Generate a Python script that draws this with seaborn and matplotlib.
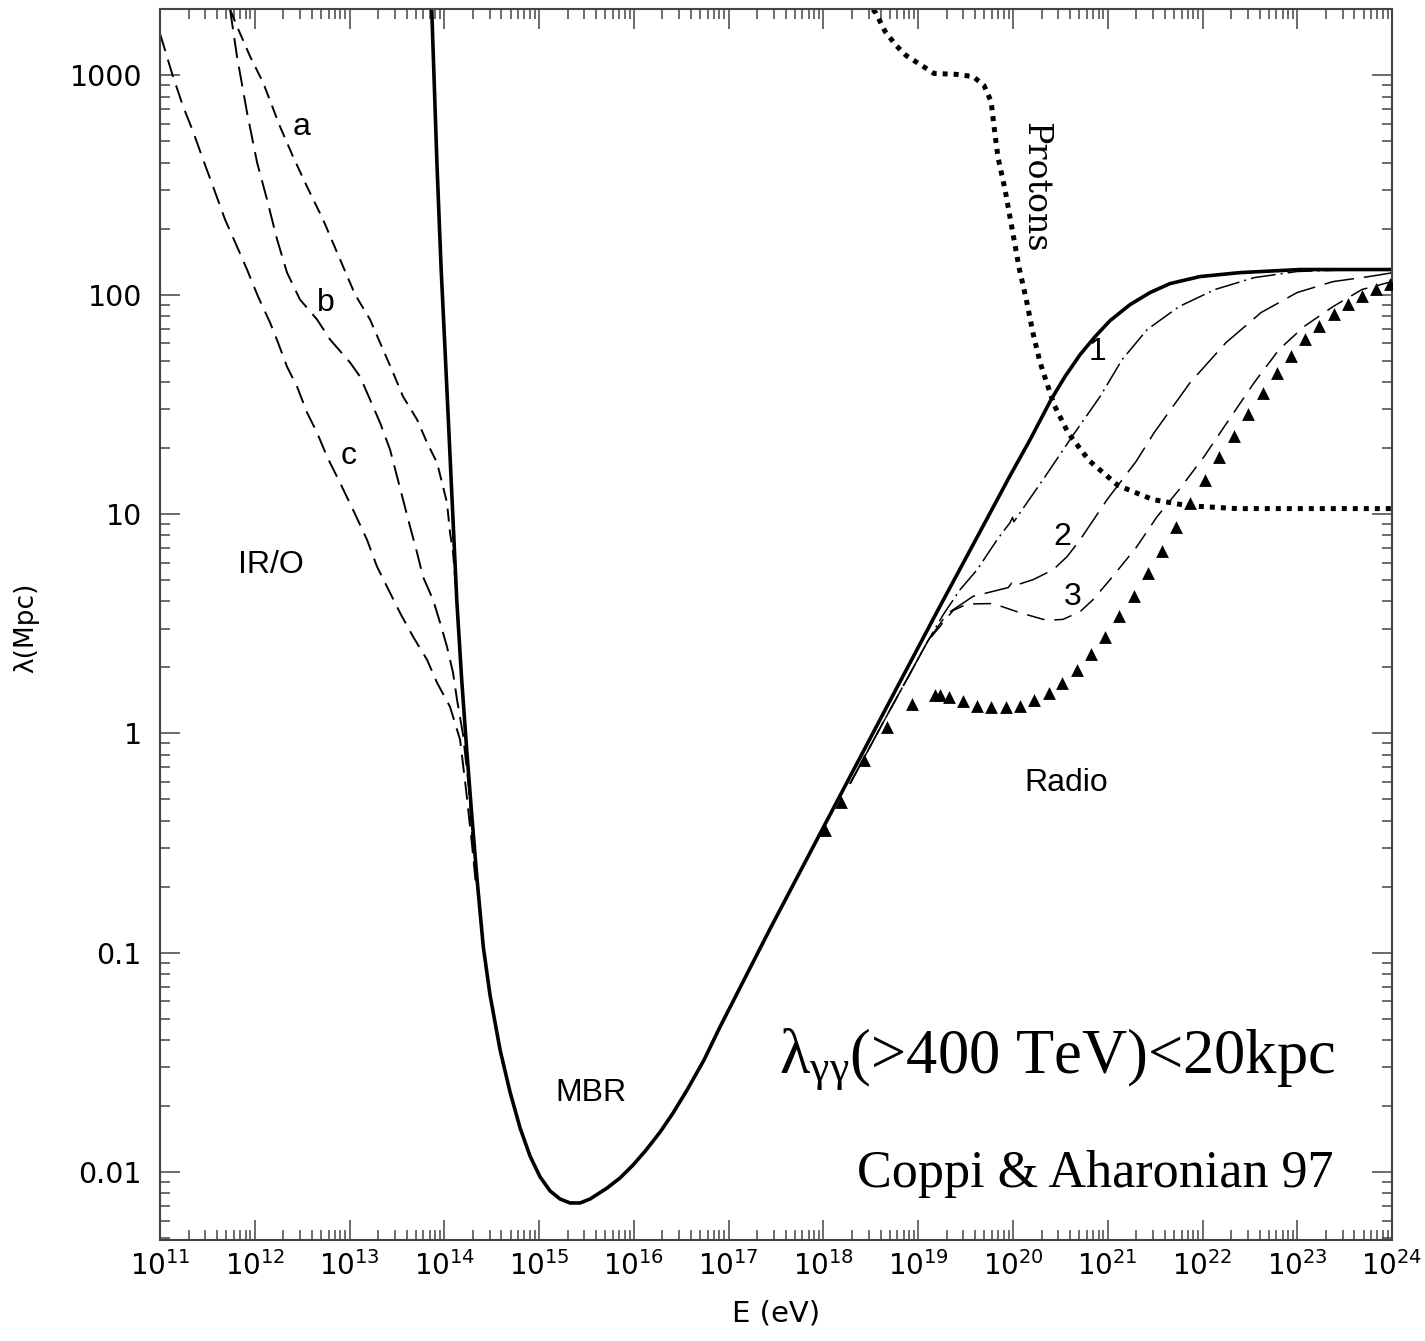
import numpy as np
import pandas as pd
import matplotlib
matplotlib.use("Agg")
import matplotlib.pyplot as plt
from matplotlib.ticker import FixedLocator, FixedFormatter, LogLocator, NullFormatter
import seaborn as sns

# all values are log10(E / eV) and log10(lambda / Mpc)
mbr_logE = [13.867, 13.923, 13.965, 14.007, 14.042, 14.131, 14.183, 14.236, 14.289, 14.342,
            14.411, 14.482, 14.588, 14.693, 14.799, 14.904, 15.010, 15.115, 15.221, 15.326,
            15.432, 15.537, 15.717, 15.854, 15.991, 16.128, 16.276, 16.413, 16.561, 16.740,
            16.909, 17.437, 17.996, 18.629, 19.199, 19.726, 19.969, 20.180, 20.402, 20.549,
            20.708, 20.866, 21.024, 21.235, 21.446, 21.657, 21.974, 22.396, 23.029, 24.000]
mbr_logL = [3.301, 2.585, 2.129, 1.750, 1.431, 0.609, 0.245, -0.075, -0.371, -0.650,
            -0.974, -1.193, -1.443, -1.635, -1.799, -1.927, -2.022, -2.086, -2.123, -2.141,
            -2.141, -2.123, -2.073, -2.027, -1.968, -1.900, -1.818, -1.731, -1.626, -1.489,
            -1.338, -0.891, -0.431, 0.089, 0.555, 0.979, 1.175, 1.339, 1.522, 1.627,
            1.727, 1.809, 1.882, 1.955, 2.010, 2.051, 2.083, 2.101, 2.115, 2.115]

radio1_logE = [18.28, 18.63, 18.91, 19.10, 19.262, 19.441, 19.621, 19.832, 19.969, 19.995,
               20.010, 20.148, 20.317, 20.623, 20.919, 21.151, 21.415, 21.752, 22.132, 22.544,
               22.997, 23.500, 24.000]
radio1_logL = [-0.23, 0.05, 0.27, 0.42, 0.54, 0.655, 0.746, 0.883, 0.961, 0.985,
               0.965, 1.052, 1.157, 1.353, 1.536, 1.704, 1.841, 1.946, 2.024, 2.078,
               2.106, 2.113, 2.115]

radio2_logE = [18.28, 18.63, 18.91, 19.10, 19.304, 19.579, 19.950, 19.985, 20.005, 20.212,
               20.423, 20.571, 20.708, 20.993, 21.299, 21.489, 21.868, 22.248, 22.618, 22.998,
               23.377, 23.757, 24.000]
radio2_logL = [-0.23, 0.05, 0.27, 0.42, 0.545, 0.625, 0.665, 0.685, 0.672, 0.701,
               0.746, 0.806, 0.883, 1.066, 1.240, 1.371, 1.599, 1.782, 1.919, 2.010,
               2.060, 2.083, 2.100]

radio3_logE = [18.28, 18.63, 18.91, 19.10, 19.367, 19.515, 19.790, 20.075, 20.359, 20.528,
               20.708, 20.845, 21.024, 21.299, 21.520, 21.752, 22.016, 22.280, 22.544, 22.807,
               23.071, 23.377, 23.683, 24.000]
radio3_logL = [-0.23, 0.05, 0.27, 0.42, 0.560, 0.590, 0.592, 0.550, 0.515, 0.520,
               0.555, 0.610, 0.701, 0.847, 0.988, 1.111, 1.262, 1.431, 1.599, 1.750,
               1.855, 1.946, 2.024, 2.060]

radio_tri_logE = [18.017, 18.183, 18.429, 18.671, 18.935, 19.178, 19.230, 19.325, 19.473, 19.621,
                  19.769, 19.927, 20.075, 20.222, 20.381, 20.518, 20.676, 20.824, 20.972, 21.119,
                  21.277, 21.425, 21.573, 21.720, 21.868, 22.027, 22.174, 22.333, 22.480, 22.639,
                  22.786, 22.934, 23.082, 23.230, 23.388, 23.536, 23.683, 23.831, 23.979]
radio_tri_logL = [-0.440, -0.312, -0.120, 0.030, 0.135, 0.176, 0.176, 0.167, 0.149, 0.126,
                  0.121, 0.121, 0.126, 0.153, 0.185, 0.231, 0.290, 0.363, 0.441, 0.536,
                  0.628, 0.733, 0.833, 0.942, 1.052, 1.157, 1.262, 1.358, 1.458, 1.554,
                  1.645, 1.723, 1.796, 1.859, 1.914, 1.960, 1.996, 2.028, 2.047]

proton_logE = [18.523, 18.555, 18.650, 18.766, 18.872, 18.988, 19.167, 19.399, 19.579, 19.695,
               19.769, 19.800, 19.842, 19.916, 19.990, 20.064, 20.138, 20.212, 20.286, 20.359,
               20.433, 20.581, 20.803, 21.109, 21.478, 21.847, 22.364, 23.113, 24.000]
proton_logL = [3.301, 3.283, 3.201, 3.137, 3.091, 3.059, 3.009, 3.005, 2.995, 2.954,
               2.881, 2.767, 2.626, 2.480, 2.302, 2.124, 1.983, 1.823, 1.691, 1.595,
               1.499, 1.371, 1.244, 1.130, 1.066, 1.038, 1.025, 1.025, 1.025]

iro_a_logE = [11.739, 11.812, 11.950, 12.087, 12.266, 12.403, 12.551, 12.720, 12.868, 13.058,
              13.216, 13.353, 13.459, 13.564, 13.712, 13.817, 13.923, 13.986, 14.028, 14.060,
              14.092, 14.123, 14.150]
iro_a_logL = [3.301, 3.224, 3.087, 2.968, 2.767, 2.630, 2.493, 2.343, 2.193, 2.001,
              1.887, 1.750, 1.645, 1.536, 1.431, 1.326, 1.234, 1.125, 1.052, 0.915,
              0.824, 0.655, 0.480]

iro_b_logE = [11.739, 11.812, 11.918, 12.024, 12.129, 12.235, 12.340, 12.477, 12.657, 12.794,
              13.005, 13.110, 13.216, 13.321, 13.427, 13.501, 13.564, 13.638, 13.712, 13.775,
              13.881, 13.955, 14.028, 14.092, 14.134, 14.197, 14.261, 14.303, 14.345]
iro_b_logL = [3.301, 3.087, 2.831, 2.603, 2.434, 2.252, 2.101, 1.978, 1.887, 1.796,
              1.691, 1.627, 1.522, 1.417, 1.294, 1.171, 1.066, 0.943, 0.824, 0.714,
              0.609, 0.505, 0.395, 0.276, 0.153, -0.006, -0.257, -0.531, -0.713]

iro_c_logE = [11.000, 11.028, 11.123, 11.243, 11.348, 11.454, 11.559, 11.686, 11.812, 11.918,
              12.034, 12.161, 12.245, 12.340, 12.446, 12.551, 12.657, 12.762, 12.899, 13.036,
              13.184, 13.290, 13.427, 13.532, 13.670, 13.817, 13.923, 14.060, 14.166, 14.229,
              14.292, 14.334]
iro_c_logL = [3.190, 3.151, 3.014, 2.859, 2.745, 2.617, 2.494, 2.343, 2.220, 2.115,
              1.992, 1.873, 1.782, 1.672, 1.581, 1.463, 1.371, 1.262, 1.143, 1.020,
              0.883, 0.760, 0.641, 0.550, 0.441, 0.336, 0.231, 0.121, -0.029, -0.257,
              -0.508, -0.691]

x_tick_exps = list(range(11, 25))
y_tick_values = [0.01, 0.1, 1, 10, 100, 1000]
y_tick_labels = ["0.01", "0.1", "1", "10", "100", "1000"]

sns.set_style("ticks", {"text.color": "black", "axes.labelcolor": "black"})
plt.rcParams["font.family"] = ["DejaVu Sans"]

fig = plt.figure(figsize=(14.25, 13.41), dpi=100)
ax = fig.add_axes([0.1123, 0.0753, 0.8646, 0.9180])
ax.set_xscale("log")
ax.set_yscale("log")


def curve(logE, logL, **kw):
    df = pd.DataFrame({"E": 10.0 ** np.array(logE), "lam": 10.0 ** np.array(logL)})
    sns.lineplot(data=df, x="E", y="lam", ax=ax, color="black", sort=False,
                 estimator=None, **kw)


# IR/O curves
curve(iro_a_logE, iro_a_logL, linewidth=1.4, linestyle=(0, (6.7, 4.1)))
curve(iro_b_logE, iro_b_logL, linewidth=1.4, linestyle=(0, (10.3, 4.6)))
curve(iro_c_logE, iro_c_logL, linewidth=1.4, linestyle=(0, (9.3, 4.6)))

# radio curves
curve(radio1_logE, radio1_logL, linewidth=1.1, linestyle=(0, (16.4, 3.3, 1.3, 3.3)))
curve(radio2_logE, radio2_logL, linewidth=1.1, linestyle=(0, (19.6, 6.5)))
curve(radio3_logE, radio3_logL, linewidth=1.1, linestyle=(0, (11.8, 6.5)))

# MBR only
curve(mbr_logE, mbr_logL, linewidth=2.6, solid_capstyle="round", solid_joinstyle="round")

# protons
curve(proton_logE, proton_logL, linewidth=3.6, linestyle=(0, (1.0, 1.2)),
      dash_capstyle="butt")

tri = pd.DataFrame({"E": 10.0 ** np.array(radio_tri_logE),
                    "lam": 10.0 ** np.array(radio_tri_logL)})
sns.scatterplot(data=tri, x="E", y="lam", ax=ax, marker="^", color="black",
                s=85, linewidth=0, zorder=3)

ax.set_xlim(1e11, 1e24)
ax.set_ylim(10 ** -2.31, 10 ** 3.303)

ax.xaxis.set_major_locator(FixedLocator([10.0 ** e for e in x_tick_exps]))
ax.xaxis.set_major_formatter(FixedFormatter([r"$\mathregular{10^{%d}}$" % e for e in x_tick_exps]))
ax.xaxis.set_minor_locator(LogLocator(base=10, subs=np.arange(2, 10), numticks=200))
ax.xaxis.set_minor_formatter(NullFormatter())
ax.yaxis.set_major_locator(FixedLocator(y_tick_values))
ax.yaxis.set_major_formatter(FixedFormatter(y_tick_labels))
ax.yaxis.set_minor_locator(LogLocator(base=10, subs=np.arange(2, 10), numticks=200))
ax.yaxis.set_minor_formatter(NullFormatter())

ax.tick_params(which="both", direction="in", top=True, right=True, color="#444444",
               labelcolor="black")
ax.tick_params(which="major", length=14.5, width=1.1)
ax.tick_params(which="minor", length=7.2, width=1.1)
ax.tick_params(axis="y", labelsize=20.5, pad=13)
ax.tick_params(axis="x", labelsize=20, pad=8)
for sp in ax.spines.values():
    sp.set_color("#444444")
    sp.set_linewidth(1.5)

ax.set_xlabel("E (eV)", fontsize=21)
ax.xaxis.set_label_coords(0.5, -0.048)
ax.set_ylabel("λ(Mpc)", fontsize=19)
ax.yaxis.set_label_coords(-0.098, 0.497)

sans = "Liberation Sans"
lab = dict(fontsize=23, family=sans, ha="center", va="center", color="black")
ax.text(10 ** 12.498, 10 ** 2.763, "a", **lab)
ax.text(10 ** 12.752, 10 ** 1.964, "b", **lab)
ax.text(10 ** 12.994, 10 ** 1.266, "c", **lab)
ax.text(10 ** 12.171, 10 ** 0.769, "IR/O", **lab)
ax.text(10 ** 15.548, 10 ** -1.640, "MBR", **lab)
ax.text(10 ** 20.560, 10 ** -0.225, "Radio", **lab)
ax.text(10 ** 20.887, 10 ** 1.741, "1", **lab)
ax.text(10 ** 20.518, 10 ** 0.897, "2", **lab)
ax.text(10 ** 20.634, 10 ** 0.623, "3", **lab)
ax.text(10 ** 20.233, 10 ** 2.489, "Protons", fontsize=24, family="DejaVu Serif",
        rotation=270, ha="center", va="center", color="black")

serif = "Liberation Serif"
ax.text(10 ** 23.398, 10 ** -1.544, r"$\mathregular{λ_{γγ}}$(>400 TeV)<20kpc",
        fontsize=45, family=serif, ha="right", va="baseline", color="black")
ax.text(10 ** 23.377, 10 ** -2.068, "Coppi & Aharonian 97",
        fontsize=37.5, family=serif, ha="right", va="baseline", color="black")

fig.savefig("out.png", dpi=100)
